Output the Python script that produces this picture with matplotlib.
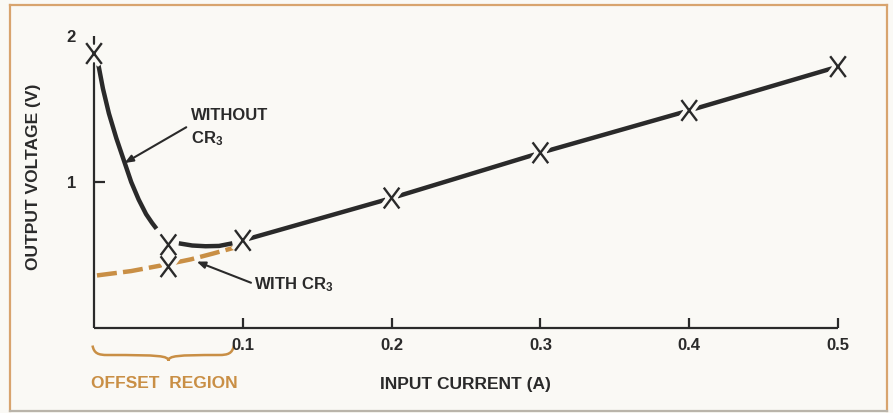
import matplotlib
matplotlib.use("Agg")
import matplotlib.pyplot as plt
from matplotlib.path import Path
from matplotlib.patches import PathPatch
from matplotlib.lines import Line2D
import matplotlib.patheffects as pe

# ---- data -------------------------------------------------------------
# measured points (X marks)
meas_x = [0.0, 0.05, 0.05, 0.1, 0.2, 0.3, 0.4, 0.5]
meas_y = [1.88, 0.57, 0.42, 0.60, 0.89, 1.20, 1.49, 1.79]

# without CR3: steep fall in the offset region
decay_x = [0.003, 0.006, 0.010, 0.015, 0.020, 0.025, 0.030, 0.035, 0.039, 0.042]
decay_y = [1.80, 1.64, 1.47, 1.30, 1.15, 1.00, 0.88, 0.78, 0.72, 0.68]
# without CR3: shallow dip between 0.05 A and 0.1 A
dip_x = [0.057, 0.066, 0.075, 0.084, 0.093]
dip_y = [0.58, 0.565, 0.56, 0.562, 0.58]
# linear region above 0.1 A
lin_x = [0.1, 0.2, 0.3, 0.4, 0.5]
lin_y = [0.60, 0.89, 1.20, 1.49, 1.79]

# with CR3 (dashed)
with_x = [0.002, 0.025, 0.046, 0.065, 0.080, 0.096]
with_y = [0.36, 0.39, 0.43, 0.47, 0.51, 0.555]

x_ticks = [0.1, 0.2, 0.3, 0.4, 0.5]
x_tick_labels = ["0.1", "0.2", "0.3", "0.4", "0.5"]
y_ticks = [1, 2]
y_tick_labels = ["1", "2"]

# ---- style ------------------------------------------------------------
BG = "#FAF9F5"
INK = "#2A2A2A"
ORANGE = "#C98F45"
BORDER = "#D8A46E"

plt.rcParams["font.family"] = ["Liberation Sans", "DejaVu Sans"]
plt.rcParams["font.weight"] = "bold"
plt.rcParams["mathtext.fontset"] = "custom"
plt.rcParams["mathtext.rm"] = "Liberation Sans:bold"
plt.rcParams["mathtext.default"] = "rm"

W, H = 893, 413
fig = plt.figure(figsize=(W / 100, H / 100), dpi=100, facecolor=BG)

x0px, x1px = 94, 838
y0px, y1px = 328, 36
ax = fig.add_axes([x0px / W, (H - y0px) / H, (x1px - x0px) / W, (y0px - y1px) / H])
ax.set_facecolor(BG)
ax.set_xlim(0, 0.5)
ax.set_ylim(0, 2)

for s in ("top", "right"):
    ax.spines[s].set_visible(False)
for s in ("left", "bottom"):
    ax.spines[s].set_color(INK)
    ax.spines[s].set_linewidth(1.6)
    ax.spines[s].set_capstyle("butt")

ax.set_xticks(x_ticks)
ax.set_xticklabels(x_tick_labels)
ax.set_yticks(y_ticks)
ax.set_yticklabels(y_tick_labels)
ax.tick_params(axis="x", direction="in", length=7.5, width=1.6, color=INK,
               pad=7, labelsize=12, labelcolor=INK)
ax.tick_params(axis="y", direction="in", length=8, width=1.6, color=INK,
               pad=13, labelsize=12, labelcolor=INK)
# the "2" sits at the top end of the axis line, no tick mark
ax.yaxis.get_major_ticks()[1].tick1line.set_visible(False)

halo = [pe.Stroke(linewidth=7, foreground=BG), pe.Normal()]

line_kw = dict(color=INK, lw=3.2, solid_capstyle="butt",
               solid_joinstyle="round", zorder=3)
ax.plot(decay_x, decay_y, **line_kw)
ax.plot(dip_x, dip_y, **line_kw)
ax.plot(lin_x, lin_y, **line_kw)

ax.plot(with_x, with_y, color=ORANGE, lw=3.2, dashes=(4.5, 1.4),
        dash_capstyle="butt", zorder=2)

# tall X mark
xmark = Path([(-0.75, -1), (0.75, 1), (-0.75, 1), (0.75, -1)],
             [Path.MOVETO, Path.LINETO, Path.MOVETO, Path.LINETO])
ax.plot(meas_x, meas_y, linestyle="none", marker=xmark, markersize=15,
        markeredgewidth=1.7, markeredgecolor=INK, markerfacecolor="none",
        zorder=5, clip_on=False, path_effects=halo)

# ---- annotations ------------------------------------------------------
ann_kw = dict(fontsize=12, color=INK, ha="left", va="center")
ax.text(0.0655, 1.455, "WITHOUT", **ann_kw)
ax.text(0.0655, 1.30, r"CR$_3$", **ann_kw)
ax.annotate("", xy=(0.0205, 1.13), xytext=(0.062, 1.375),
            arrowprops=dict(arrowstyle="-|>,head_length=0.5,head_width=0.2",
                            color=INK, lw=1.5, shrinkA=0, shrinkB=0))

ax.text(0.1075, 0.30, r"WITH CR$_3$", **ann_kw)
ax.annotate("", xy=(0.069, 0.455), xytext=(0.1055, 0.31),
            arrowprops=dict(arrowstyle="-|>,head_length=0.5,head_width=0.2",
                            color=INK, lw=1.5, shrinkA=0, shrinkB=0))

# offset-region brace under the x axis
bl, br, bm = -0.001, 0.094, 0.050
yt, yh, yp = -0.12, -0.185, -0.225
verts = [(bl, yt), (bl + 0.001, yh + 0.01), (bl + 0.004, yh), (bl + 0.01, yh),
         (bm - 0.006, yh), (bm, yh - 0.005), (bm, yp),
         (bm, yh - 0.005), (bm + 0.006, yh), (br - 0.01, yh),
         (br - 0.004, yh), (br - 0.001, yh + 0.01), (br, yt)]
codes = [Path.MOVETO, Path.CURVE4, Path.CURVE4, Path.CURVE4,
         Path.CURVE4, Path.CURVE4, Path.CURVE4,
         Path.CURVE4, Path.CURVE4, Path.CURVE4,
         Path.CURVE4, Path.CURVE4, Path.CURVE4]
ax.add_patch(PathPatch(Path(verts, codes), facecolor="none", edgecolor=ORANGE,
                       lw=1.8, clip_on=False))

fig.text(164 / W, 1 - 384 / H, "OFFSET  REGION", color=ORANGE, fontsize=12.5,
         ha="center", va="center")

fig.text(465 / W, 1 - 384 / H, "INPUT CURRENT (A)", color=INK, fontsize=12.5,
         ha="center", va="center")
fig.text(34 / W, 1 - 177 / H, "OUTPUT VOLTAGE (V)", color=INK, fontsize=12.5,
         ha="center", va="center", rotation=90)

# frame round the figure
def frame_line(xs, ys, color):
    fig.add_artist(Line2D([x / W for x in xs], [1 - y / H for y in ys],
                          color=color, lw=1.6, transform=fig.transFigure))

frame_line([9.5, 9.5], [411, 4.5], BORDER)
frame_line([9.5, 887], [4.5, 4.5], BORDER)
frame_line([887, 887], [4.5, 411], BORDER)
frame_line([9.5, 887], [411, 411], "#B9B4AA")

fig.savefig("out.png", dpi=100, facecolor=BG)
